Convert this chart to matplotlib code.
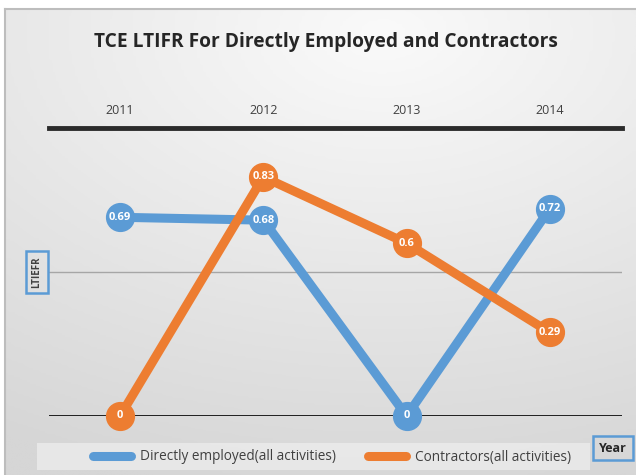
import matplotlib
matplotlib.use('Agg')
import matplotlib.pyplot as plt
import numpy as np
from matplotlib.colors import LinearSegmentedColormap
from matplotlib.patches import Rectangle

# dados
anos = ['2011', '2012', '2013', '2014']
diretos = [0.69, 0.68, 0, 0.72]
contratados = [0, 0.83, 0.6, 0.29]
etiqueta_diretos = 'Directly employed(all activities)'
etiqueta_contratados = 'Contractors(all activities)'

azul = '#5B9BD5'
laranja = '#ED7D31'

plt.rcParams['font.family'] = ['Open Sans', 'DejaVu Sans']

fig = plt.figure(figsize=(6.36, 4.75), dpi=100)
fig.patch.set_facecolor('white')

# fundo com gradiente
bg = fig.add_axes([5 / 636, 0, 1 - 5 / 636, 1 - 9 / 475])
yy, xx = np.mgrid[0:1:200j, 0:1:200j]
r = np.sqrt((xx - 0.6) ** 2 + ((yy - 0.05) * 1.2) ** 2)
cinzas = LinearSegmentedColormap.from_list('cinzas', ['#fafafa', '#d6d6d6'])
bg.imshow(r, cmap=cinzas, vmin=0.0, vmax=1.2, aspect='auto', extent=[0, 1, 1, 0])
bg.set_xticks([])
bg.set_yticks([])
for lado in ['right', 'bottom']:
    bg.spines[lado].set_visible(False)
for lado in ['left', 'top']:
    bg.spines[lado].set_color('#bdbdbd')
    bg.spines[lado].set_linewidth(1.5)

# caixa da legenda
fig.patches.append(Rectangle((37 / 636, 5 / 475), 553 / 636, 27 / 475,
                             transform=fig.transFigure, fc='#ececec', ec='none',
                             alpha=0.8, zorder=0.5))

ax = fig.add_axes([48.5 / 636, 59 / 475, 573 / 636, 288 / 475])
ax.patch.set_alpha(0)
x = np.arange(len(anos))

ax.axhline(0.5, color='#a6a6a6', lw=1, zorder=1)
ax.axhline(0, color='black', lw=1.2, zorder=1)

ax.plot(x, diretos, color=azul, lw=6.5, marker='o', ms=20, clip_on=False, zorder=3)
ax.plot(x, contratados, color=laranja, lw=6.5, marker='o', ms=20, clip_on=False, zorder=4)
for xi, v in zip(x, diretos):
    ax.text(xi, v, f'{v:g}', color='white', fontsize=8, fontweight='bold',
            ha='center', va='center', zorder=5)
for xi, v in zip(x, contratados):
    ax.text(xi, v, f'{v:g}', color='white', fontsize=8, fontweight='bold',
            ha='center', va='center', zorder=6)

ax.set_xlim(-0.5, 3.5)
ax.set_ylim(0, 1)
ax.set_yticks([])
ax.xaxis.tick_top()
ax.set_xticks(x)
ax.set_xticklabels(anos, fontsize=9, color='#404040')
ax.tick_params(axis='x', length=0, pad=8)
for lado in ['left', 'right', 'bottom']:
    ax.spines[lado].set_visible(False)
ax.spines['top'].set_color('#2b2b2b')
ax.spines['top'].set_linewidth(3.5)

fig.text(0.512, 0.912, 'TCE LTIFR For Directly Employed and Contractors',
         ha='center', va='center', fontsize=13.8, fontweight='bold', color='#262626')

fig.text(37 / 636, 1 - 272 / 475, 'LTIEFR', rotation=90, ha='center', va='center',
         fontsize=7, fontweight='bold', color='#404040',
         bbox=dict(boxstyle='square,pad=0.55', fc='none', ec=azul, lw=1.8))
fig.text(613 / 636, 27 / 475, 'Year', ha='center', va='center',
         fontsize=9, fontweight='bold', color='#262626',
         bbox=dict(boxstyle='square,pad=0.45', fc='none', ec=azul, lw=1.8))

h1, = ax.plot([], [], color=azul, lw=6.5, solid_capstyle='round')
h2, = ax.plot([], [], color=laranja, lw=6.5, solid_capstyle='round')
leg = fig.legend([h1, h2], [etiqueta_diretos, etiqueta_contratados], ncol=2,
                 loc='center', bbox_to_anchor=(332 / 636, 18 / 475), frameon=False,
                 fontsize=9.8, handlelength=2.8, handletextpad=0.66,
                 columnspacing=2.35, borderpad=0, borderaxespad=0)
for t in leg.get_texts():
    t.set_color('#404040')

fig.savefig('out.png', dpi=100)
